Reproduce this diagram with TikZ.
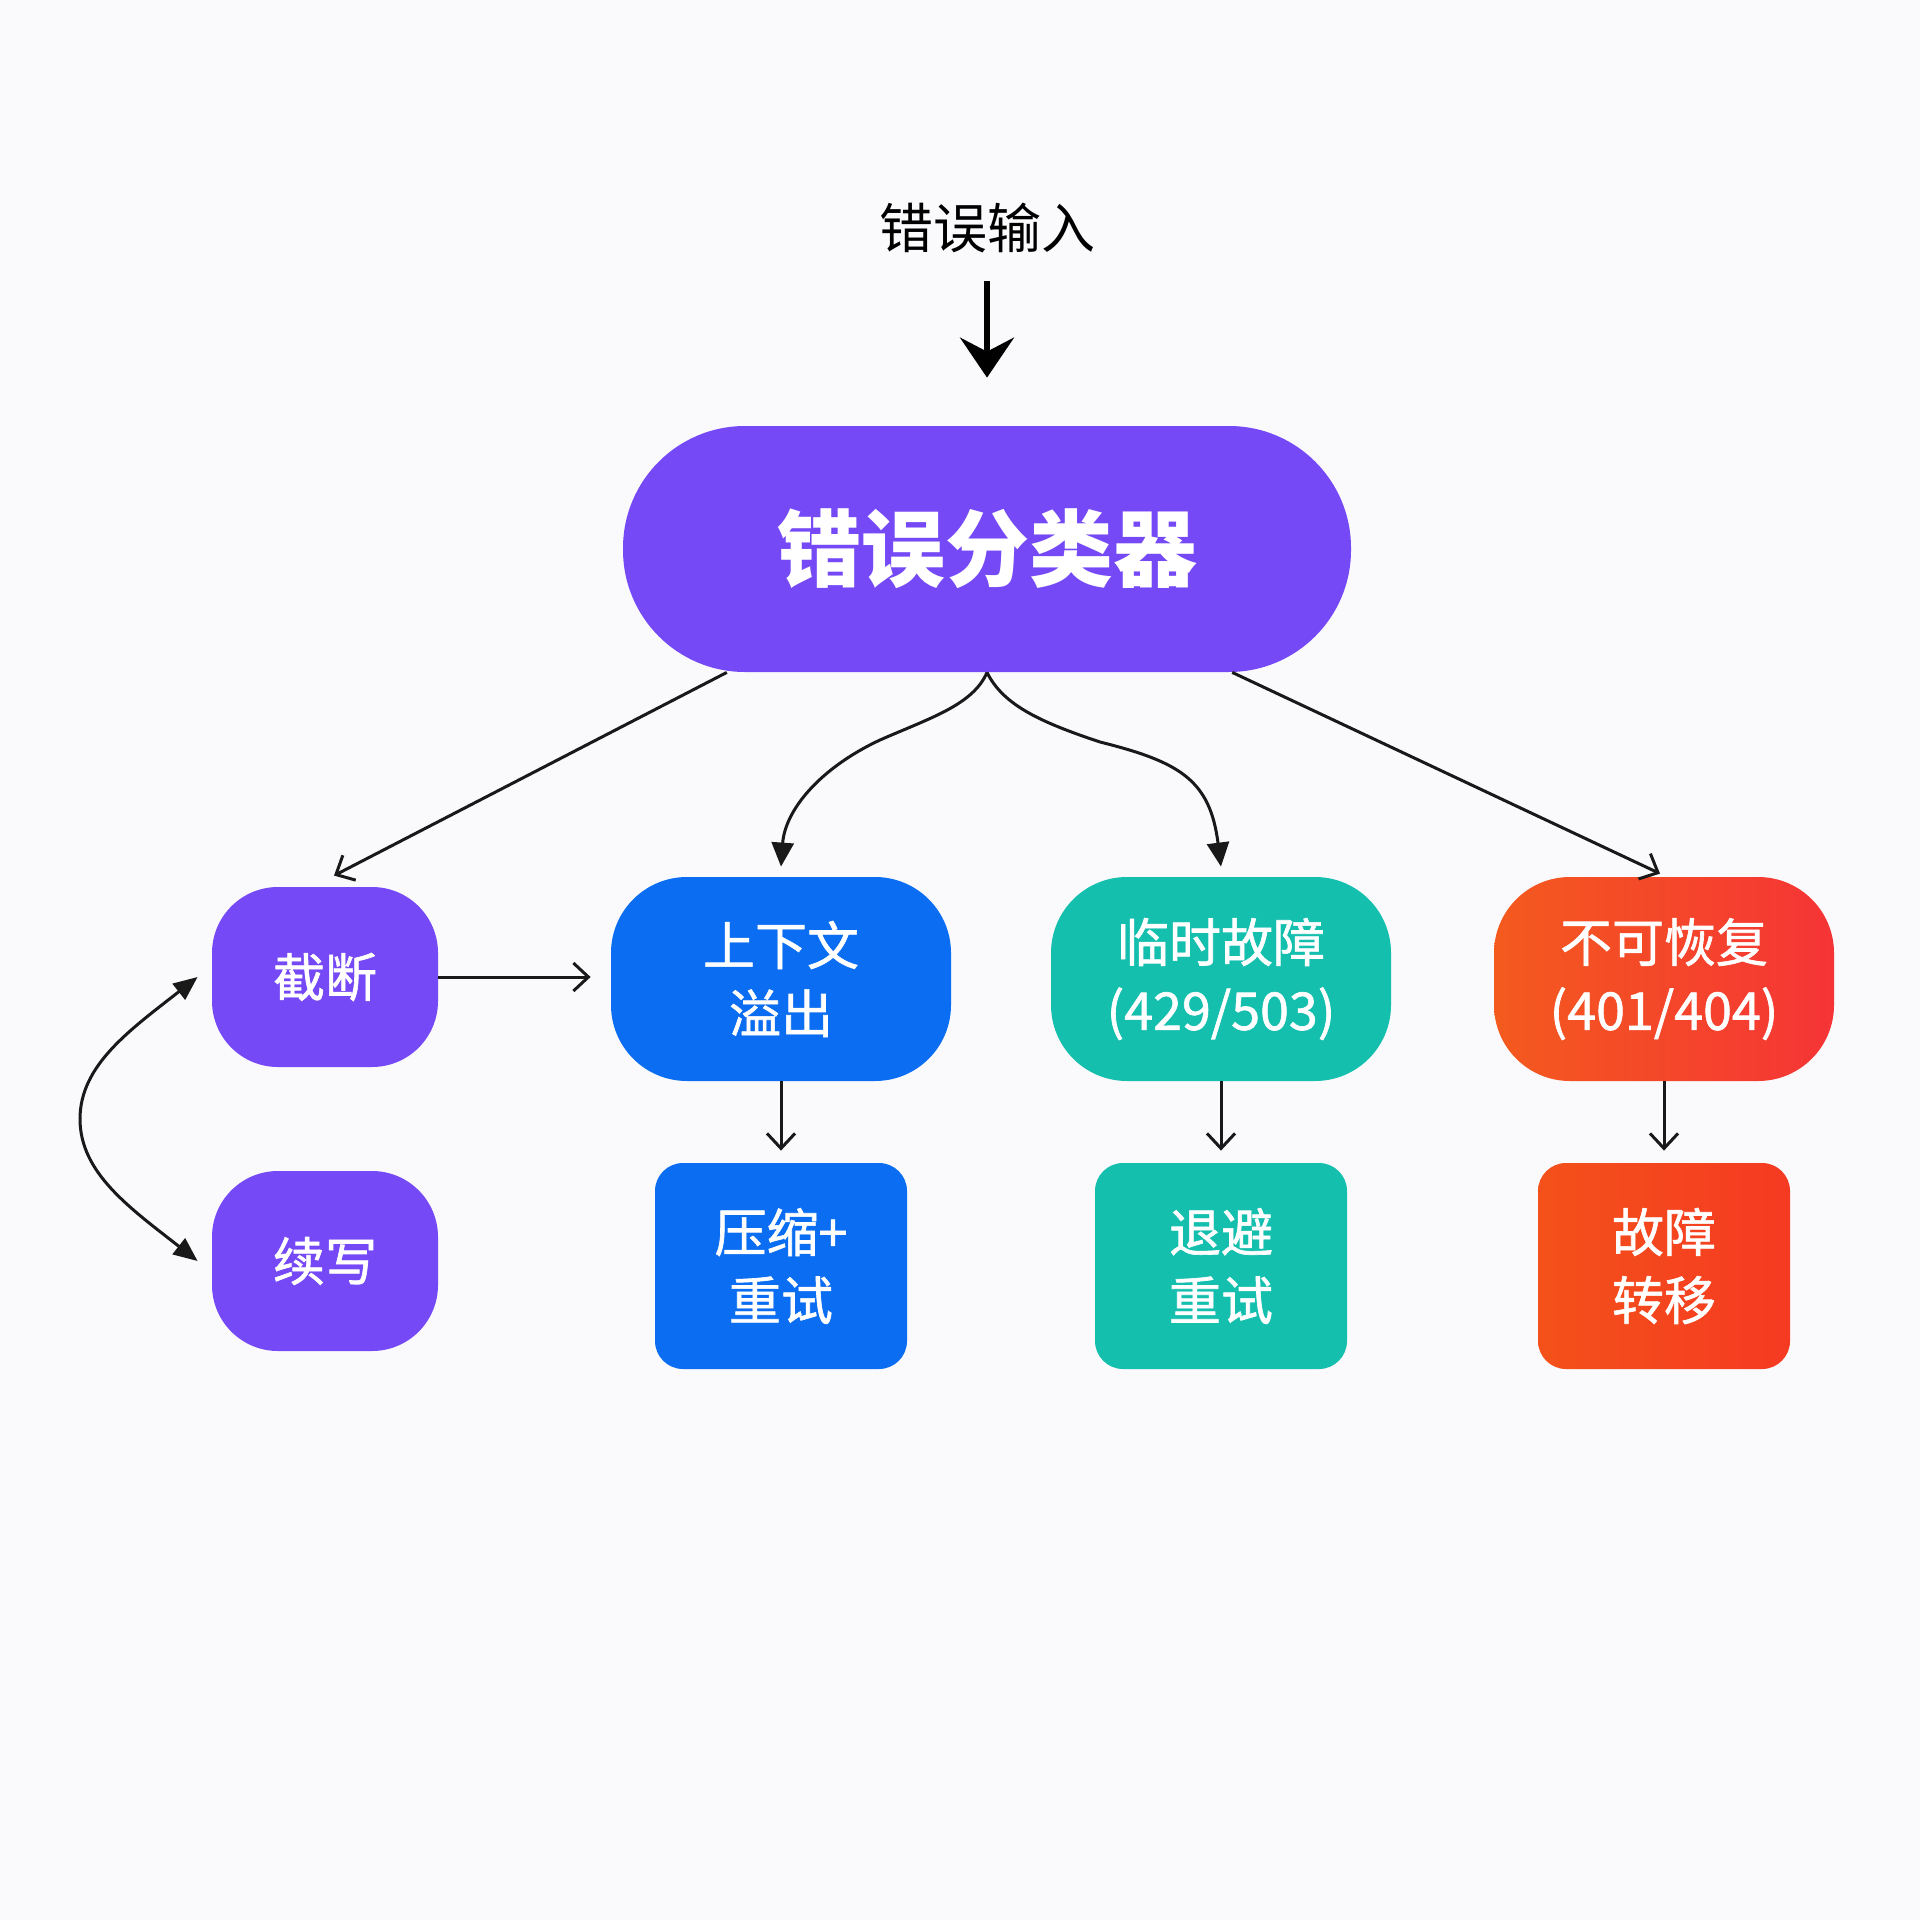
\documentclass[tikz,border=0pt]{standalone}
\usepackage{fontspec}
\setmainfont{Noto Sans CJK SC}
\newfontfamily\medfont[FakeBold=1.2]{Noto Sans CJK SC}
\usetikzlibrary{arrows.meta,calc}
\definecolor{bgc}{HTML}{FAFAFC}
\definecolor{purp}{HTML}{7549F6}
\definecolor{blu}{HTML}{0B6DF1}
\definecolor{tea}{HTML}{15BFAE}
\definecolor{orgL}{HTML}{F45A1E}
\definecolor{redR}{HTML}{F53436}
\definecolor{orgL2}{HTML}{F4511A}
\definecolor{redR2}{HTML}{F53A22}
\begin{document}
\begin{tikzpicture}[x=0.5pt,y=-0.5pt,
  box/.style={draw=none,text=white,align=center,inner sep=0pt,
    font=\medfont\fontsize{26}{34}\selectfont},
  pill/.style={box,minimum width=364pt,minimum height=123pt,rounded corners=61pt,
    fill=purp,font=\fontsize{42}{50}\selectfont\bfseries},
  smallbox/.style={box,minimum width=113pt,minimum height=90pt,rounded corners=33pt},
  midbox/.style={box,minimum width=170pt,minimum height=102pt,rounded corners=38pt},
  botbox/.style={box,minimum width=126pt,minimum height=103pt,rounded corners=14pt},
  conn/.style={draw=black!90,line width=1.5pt},
  openhead/.style={-{Straight Barb[length=7.5pt,width=14pt,line width=1.5pt]}},
  tri/.style={Triangle[length=12pt,width=11pt]},
  fillhead/.style={-{Triangle[length=12pt,width=11pt]}}]
\fill[bgc] (0,0) rectangle (1920,1920);
\useasboundingbox (0,0) rectangle (1920,1920);

\node[inner sep=0pt,font=\fontsize{27}{32}\selectfont] (inp) at (987,228) {错误输入};
\node[pill] (cls) at (987,549) {错误分类器};

\node[smallbox,fill=purp] (jd) at (325,977) {截断};
\node[smallbox,fill=purp] (xx) at (325,1261) {续写};

\node[midbox,fill=blu] (ctx) at (781,979) {上下文\\溢出};
\node[midbox,fill=tea] (tmp) at (1221,979) {临时故障\\(429/503)};
\node[midbox,left color=orgL,right color=redR] (bkh) at (1664,979) {不可恢复\\(401/404)};

\node[botbox,fill=blu] (ysh) at (781,1266) {压缩+\\重试};
\node[botbox,fill=tea] (bb) at (1221,1266) {退避\\重试};
\node[botbox,left color=orgL2,right color=redR2] (zy) at (1664,1266) {故障\\转移};

% input arrow
\draw[line width=2.6pt,-{Stealth[length=20pt,width=27pt,inset=7pt]},shorten <=14pt,shorten >=24pt]
  (inp.south) -- (cls.north);

% diagonals
\draw[conn,openhead] ($(cls.south)!0.714!(cls.south west)$) -- ([xshift=4.5pt,yshift=5.5pt]jd.north);
\draw[conn,openhead] ($(cls.south)!0.673!(cls.south east)$) -- ([xshift=-2pt,yshift=1.5pt]bkh.north);

% branch curves
\draw[conn,fillhead] (cls.south) .. controls (973,705) and (930,718) .. (880,740)
  .. controls (820,768) and (785,810) .. ([yshift=5pt]ctx.north);
\draw[conn,fillhead] (cls.south) .. controls (1003,705) and (1040,722) .. (1100,742)
  .. controls (1180,762) and (1210,780) .. ([yshift=5pt]tmp.north);

% 截断 -> 上下文
\draw[conn,openhead] (jd.east) -- ([xshift=-10pt]jd.east -| ctx.west);

% verticals
\draw[conn,openhead] (ctx.south) -- ([yshift=6pt]ysh.north);
\draw[conn,openhead] (tmp.south) -- ([yshift=6pt]bb.north);
\draw[conn,openhead] (bkh.south) -- ([yshift=6pt]zy.north);

% double arrow
\draw[conn,{Triangle[length=12pt,width=10pt]}-{Triangle[length=12pt,width=10pt]}]
  ([xshift=-7pt]jd.west) .. controls (130,1030) and (80,1065) .. (80,1119)
  .. controls (80,1173) and (130,1208) .. ([xshift=-7pt]xx.west);
\end{tikzpicture}
\end{document}
